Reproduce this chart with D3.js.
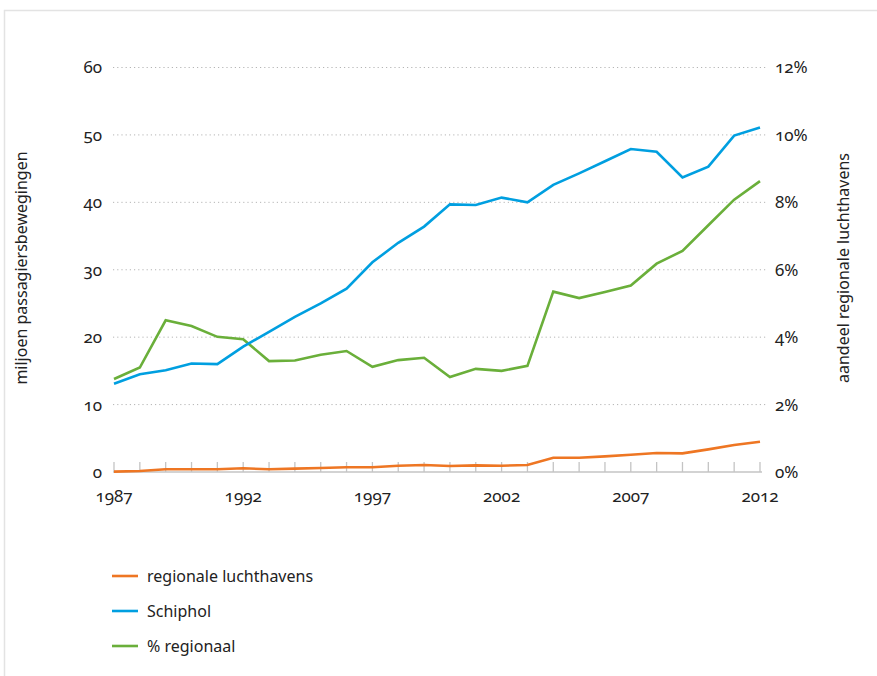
<!DOCTYPE html>
<html><head><meta charset="utf-8">
<script src="https://cdn.jsdelivr.net/npm/d3@7"></script>
<style>
body{margin:0;background:#fff;}
text{font-family:"Noto Sans","Open Sans",sans-serif;fill:#222;}
.num{font-variant-numeric:oldstyle-nums;}
</style></head>
<body><svg id="c" width="877" height="676"></svg>
<script>
const years = d3.range(1987, 2013);
const regionaal = [0.05,0.15,0.4,0.4,0.4,0.55,0.4,0.5,0.6,0.7,0.7,0.93,1.04,0.89,0.99,0.93,1.04,2.12,2.12,2.32,2.57,2.81,2.76,3.36,4.0,4.49];
const schiphol = [13.1,14.5,15.1,16.1,16.0,18.6,20.8,23.0,25.0,27.2,31.1,34.0,36.4,39.7,39.6,40.7,40.0,42.6,44.3,46.1,47.9,47.5,43.7,45.3,49.9,51.1];
const pctRegionaal = [2.76,3.1,4.5,4.33,4.01,3.94,3.29,3.31,3.48,3.59,3.12,3.32,3.39,2.82,3.06,3.0,3.15,5.35,5.16,5.34,5.53,6.18,6.56,7.32,8.08,8.63];
const leftTicks = [0,10,20,30,40,50,60];
const rightTicks = [0,2,4,6,8,10,12];
const xLabels = [1987,1992,1997,2002,2007,2012];
const seriesNames = ["regionale luchthavens","Schiphol","% regionaal"];
const colors = ["#ee7623","#009fe0","#6aaf3a"];

const svg = d3.select("#c");
// frame
svg.append("path").attr("d","M4.5,676 V10.5 H877").attr("fill","none").attr("stroke","#e3e3e3").attr("stroke-width",1.5);

const x = d3.scaleLinear().domain([1987,2012]).range([114,760]);
const yL = d3.scaleLinear().domain([0,60]).range([472,67.5]);
const yR = d3.scaleLinear().domain([0,12]).range([472,67.5]);

// gridlines
svg.append("g").selectAll("line").data(leftTicks.filter(d=>d>0)).join("line")
  .attr("x1",113).attr("x2",766).attr("y1",d=>yL(d)).attr("y2",d=>yL(d))
  .attr("stroke","#b5b5b5").attr("stroke-width",1).attr("stroke-dasharray","1.2,3");

// baseline + ticks
svg.append("line").attr("x1",113).attr("x2",762).attr("y1",472).attr("y2",472).attr("stroke","#c4c4c4").attr("stroke-width",1.5);
svg.append("g").selectAll("line").data(years).join("line")
  .attr("x1",d=>x(d)).attr("x2",d=>x(d)).attr("y1",462).attr("y2",472)
  .attr("stroke","#c4c4c4").attr("stroke-width",1.3);

// left tick labels
svg.append("g").selectAll("text").data(leftTicks).join("text").attr("class","num")
  .attr("x",102).attr("y",d=>yL(d)).attr("dy","0.35em").attr("text-anchor","end")
  .attr("font-size",17).text(d=>d);
// right tick labels
svg.append("g").selectAll("text").data(rightTicks).join("text").attr("class","num")
  .attr("x",775).attr("y",d=>yR(d)).attr("dy","0.35em").attr("text-anchor","start")
  .attr("font-size",17).text(d=>d+"%");
// x labels
svg.append("g").selectAll("text").data(xLabels).join("text").attr("class","num")
  .attr("x",d=>x(d)).attr("y",502).attr("text-anchor","middle")
  .attr("font-size",17).text(d=>d);

// axis titles
svg.append("text").attr("transform","translate(27,268) rotate(-90)").attr("text-anchor","middle")
  .attr("font-size",16).text("miljoen passagiersbewegingen");
svg.append("text").attr("transform","translate(849,268) rotate(-90)").attr("text-anchor","middle")
  .attr("font-size",16).text("aandeel regionale luchthavens");

// lines
const lineL = d3.line().x((d,i)=>x(years[i])).y(d=>yL(d));
const lineR = d3.line().x((d,i)=>x(years[i])).y(d=>yR(d));
svg.append("path").datum(pctRegionaal).attr("d",lineR).attr("fill","none").attr("stroke",colors[2]).attr("stroke-width",2.6);
svg.append("path").datum(schiphol).attr("d",lineL).attr("fill","none").attr("stroke",colors[1]).attr("stroke-width",2.6);
svg.append("path").datum(regionaal).attr("d",lineL).attr("fill","none").attr("stroke",colors[0]).attr("stroke-width",2.6);

// legend
const ly = [576,611,646];
const lg = svg.append("g").selectAll("g").data(seriesNames).join("g");
lg.append("line").attr("x1",112).attr("x2",138).attr("y1",(d,i)=>ly[i]).attr("y2",(d,i)=>ly[i])
  .attr("stroke",(d,i)=>colors[i]).attr("stroke-width",2.6);
lg.append("text").attr("x",147).attr("y",(d,i)=>ly[i]).attr("dy","0.35em").attr("font-size",16).text(d=>d);
</script></body></html>
